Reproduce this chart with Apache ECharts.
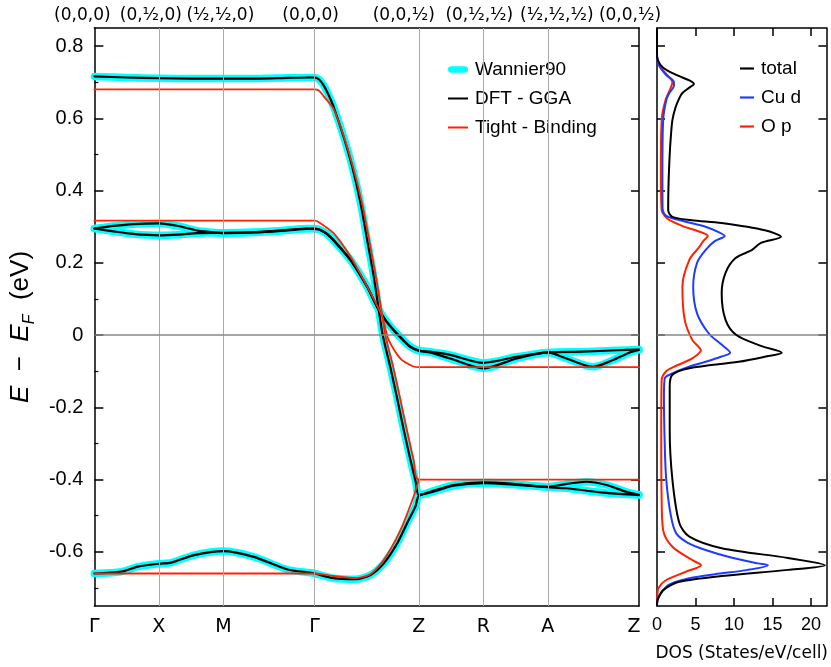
<!DOCTYPE html>
<html><head><meta charset="utf-8">
<script src="https://cdn.jsdelivr.net/npm/echarts@6/dist/echarts.min.js"></script>
<style>html,body{margin:0;padding:0;background:#fff}#c{width:831px;height:667px}</style>
</head><body><div id="c"></div>
<script>
// ---- high-symmetry path ----
const kTicks = [0, 1, 2, 3.414, 5.03, 6.03, 7.03, 8.444];
const kLabels = ['Γ', 'X', 'M', 'Γ', 'Z', 'R', 'A', 'Z'];
const kCoordLabels = ['(0,0,0)', '(0,½,0)', '(½,½,0)', '(0,0,0)', '(0,0,½)', '(0,½,½)', '(½,½,½)', '(0,0,½)'];
const kCoordShift = [-12, -8, -3, -4, -15, -4, 9, -9];
const kLabelShift = [0, 0, 0, 0, 0, 0, 0, -5];

// ---- energy ticks ----
const eMajorTicks = [-0.6, -0.4, -0.2, 0, 0.2, 0.4, 0.6, 0.8];
const eMinorTicks = [-0.7, -0.5, -0.3, -0.1, 0.1, 0.3, 0.5, 0.7];
const dosTicks = [0, 5, 10, 15, 20];

// ---- DFT-GGA bands [k, E] ----
const dftBand1 = [[0,0.716],[0.5,0.713],[1,0.711],[1.5,0.710],[2,0.710],[2.5,0.710],[3,0.712],[3.3,0.713],[3.414,0.713],[3.48,0.708],[3.56,0.69],[3.63,0.665],[3.709,0.632],[3.864,0.549],[3.998,0.466],[4.127,0.365],[4.230,0.263],[4.332,0.161],[4.410,0.069],[4.470,0.0],[4.590,-0.090],[4.694,-0.175],[4.796,-0.262],[4.900,-0.345],[4.980,-0.405],[5.030,-0.443],[5.209,-0.434],[5.569,-0.415],[6.03,-0.408],[6.496,-0.412],[7.03,-0.420],[7.321,-0.412],[7.631,-0.406],[7.94,-0.415],[8.249,-0.434],[8.444,-0.442]];
const dftBand2 = [[0,0.295],[0.3,0.302],[0.6,0.307],[1.0,0.309],[1.3,0.302],[1.6,0.289],[1.85,0.284],[2.0,0.283],[2.5,0.285],[3.0,0.291],[3.3,0.295],[3.414,0.295],[3.48,0.293],[3.56,0.286],[3.63,0.277],[3.709,0.263],[3.972,0.208],[4.230,0.134],[4.385,0.078],[4.52,0.040],[4.641,0.014],[4.78,-0.012],[4.9,-0.032],[5.03,-0.043],[5.2,-0.046],[5.518,-0.055],[6.03,-0.077],[6.549,-0.060],[7.03,-0.048],[7.573,-0.046],[8.094,-0.042],[8.444,-0.040]];
const dftBand3 = [[0,0.295],[0.3,0.287],[0.6,0.280],[1.0,0.276],[1.3,0.278],[1.6,0.282],[1.85,0.283],[2.0,0.282],[2.5,0.284],[3.0,0.290],[3.3,0.294],[3.414,0.294],[3.48,0.292],[3.56,0.285],[3.63,0.276],[3.709,0.262],[3.972,0.207],[4.230,0.133],[4.385,0.077],[4.52,0.039],[4.641,0.013],[4.78,-0.013],[4.9,-0.033],[5.03,-0.043],[5.2,-0.048],[5.518,-0.065],[6.03,-0.092],[6.549,-0.065],[7.03,-0.048],[7.321,-0.065],[7.733,-0.088],[8.042,-0.069],[8.3,-0.048],[8.444,-0.041]];
const dftBand4 = [[0,-0.660],[0.417,-0.655],[0.675,-0.641],[1.0,-0.633],[1.19,-0.630],[1.546,-0.609],[2.0,-0.598],[2.473,-0.614],[2.994,-0.649],[3.354,-0.658],[3.414,-0.660],[3.709,-0.673],[4.049,-0.676],[4.281,-0.664],[4.487,-0.632],[4.694,-0.577],[4.848,-0.521],[4.977,-0.475],[5.03,-0.445],[5.209,-0.436],[5.569,-0.417],[6.03,-0.410],[6.496,-0.414],[7.03,-0.421],[7.321,-0.424],[7.631,-0.431],[7.94,-0.437],[8.444,-0.443]];

// ---- Wannier90 bands (coincide with DFT) ----
const wannierBand1 = dftBand1;
const wannierBand2 = dftBand2;
const wannierBand3 = dftBand3;
const wannierBand4 = dftBand4;

// ---- Tight-binding bands [k, E] ----
const tbBand1 = [[0,0.680],[3.414,0.680],[3.48,0.677],[3.56,0.66],[3.709,0.626],[3.864,0.552],[4.01,0.466],[4.15,0.365],[4.26,0.263],[4.365,0.161],[4.45,0.069],[4.51,0.0],[4.635,-0.090],[4.74,-0.175],[4.845,-0.262],[4.95,-0.345],[5.03,-0.40],[8.444,-0.40]];
const tbBand2 = [[0,0.317],[3.414,0.317],[3.478,0.313],[3.709,0.282],[3.972,0.217],[4.230,0.134],[4.462,0.051],[4.564,-0.014],[4.745,-0.065],[4.946,-0.087],[5.03,-0.089],[8.444,-0.089]];
const tbBand3 = [[0,-0.660],[3.414,-0.660],[3.709,-0.667],[4.049,-0.673],[4.281,-0.662],[4.487,-0.623],[4.745,-0.540],[4.950,-0.447],[5.03,-0.40]];

// ---- DOS [E, DOS] ----
const dosTotal = [[0.85,0],[0.78,0],[0.761,0.1],[0.74,0.8],[0.72,2.5],[0.705,4.2],[0.695,4.8],[0.685,4.2],[0.67,3.3],[0.656,2.9],[0.63,2.4],[0.595,2.0],[0.55,1.8],[0.50,1.65],[0.42,1.5],[0.346,1.45],[0.327,2.0],[0.318,4.5],[0.31,8.4],[0.29,14],[0.272,16.1],[0.255,13.5],[0.235,12.3],[0.213,10.2],[0.172,8.9],[0.116,8.4],[0.042,8.9],[0.0,10.3],[-0.03,13.5],[-0.049,16.2],[-0.06,14],[-0.074,10.6],[-0.092,4.2],[-0.11,2.0],[-0.143,1.65],[-0.263,1.65],[-0.40,2.0],[-0.52,2.9],[-0.558,4.2],[-0.59,8.4],[-0.617,17],[-0.637,21.8],[-0.65,17],[-0.667,8.4],[-0.683,2.9],[-0.70,1.2],[-0.715,0.5],[-0.742,0],[-0.75,0]];
const dosCuD = [[0.85,0],[0.77,0],[0.745,0.3],[0.72,1.2],[0.70,2.2],[0.69,2.2],[0.67,1.6],[0.65,1.2],[0.595,0.8],[0.45,0.7],[0.35,0.72],[0.33,1.2],[0.315,3.5],[0.30,6.3],[0.285,8.0],[0.274,8.8],[0.26,7.5],[0.235,6.3],[0.20,5.2],[0.134,4.7],[0.06,5.2],[0.005,6.7],[-0.025,8.3],[-0.049,9.5],[-0.06,8.3],[-0.074,6.3],[-0.09,3.8],[-0.106,2.0],[-0.12,1.0],[-0.17,0.9],[-0.30,1.0],[-0.40,1.2],[-0.50,1.8],[-0.549,2.5],[-0.575,4.0],[-0.595,6.3],[-0.615,9.5],[-0.632,13.1],[-0.637,14.4],[-0.65,11.8],[-0.662,7.5],[-0.673,4.2],[-0.685,2.2],[-0.697,1.2],[-0.724,0.2],[-0.75,0]];
const dosOP = [[0.85,0],[0.77,0],[0.743,0.4],[0.72,1.3],[0.70,2.0],[0.685,1.8],[0.65,1.1],[0.595,0.6],[0.45,0.5],[0.346,0.6],[0.33,1.0],[0.318,1.65],[0.30,3.5],[0.29,5.0],[0.274,6.6],[0.26,6.0],[0.244,5.5],[0.208,4.2],[0.134,3.3],[0.042,3.6],[-0.014,4.6],[-0.043,5.7],[-0.055,5.2],[-0.069,4.2],[-0.085,2.5],[-0.10,1.2],[-0.125,0.6],[-0.263,0.55],[-0.45,0.6],[-0.54,0.8],[-0.586,2.0],[-0.623,4.6],[-0.637,5.7],[-0.655,3.8],[-0.678,1.2],[-0.70,0.2],[-0.72,0.05],[-0.75,0]];

const FONT = 'Liberation Sans';
const FONT2 = 'DejaVu Sans';
const E_MIN = -0.75, E_MAX = 0.85, K_MAX = kTicks[kTicks.length - 1], DOS_MAX = 22;

function idxOf(arr, v) { let b = 0, d = 1e9; arr.forEach((a, i) => { if (Math.abs(a - v) < d) { d = Math.abs(a - v); b = i; } }); return b; }
function shiftRich(shifts, size, family) {
  const r = {};
  shifts.forEach((s, i) => {
    r['t' + i] = { fontSize: size, fontFamily: family, color: '#000', padding: s < 0 ? [0, -2 * s, 0, 0] : [0, 0, 0, 2 * s] };
  });
  return r;
}
const eFmt = v => Math.abs(v) < 1e-9 ? '0' : v.toFixed(1);

const chart = echarts.init(document.getElementById('c'), null, { renderer: 'canvas' });

const bandSeries = [];
function addBands(list, name, color, width, z) {
  list.forEach(b => bandSeries.push({
    type: 'line', name, data: b, xAxisIndex: 0, yAxisIndex: 0, symbol: 'none', smooth: 0.25,
    lineStyle: { color, width, cap: 'round', join: 'round' }, itemStyle: { color }, z, silent: true, animation: false
  }));
}
addBands([wannierBand1, wannierBand2, wannierBand3, wannierBand4], 'Wannier90', '#00FFFF', 7.5, 2);
addBands([dftBand1, dftBand2, dftBand3, dftBand4], 'DFT - GGA', '#000000', 2.2, 3);
addBands([tbBand1, tbBand2, tbBand3], 'Tight - Binding', '#FF2200', 1.8, 4);

const dosSeries = [
  ['total', dosTotal, '#000000'], ['Cu d', dosCuD, '#1E3CFF'], ['O p', dosOP, '#FF2200']
].map(([name, d, color], i) => ({
  type: 'line', name, data: d.map(p => [p[1], p[0]]), xAxisIndex: 2, yAxisIndex: 3, symbol: 'none', smooth: 0.3,
  lineStyle: { color, width: 2 }, itemStyle: { color }, z: 5 - i, silent: true, animation: false
}));

const refSeries = [
  { type: 'line', name: '_grid0', data: [], xAxisIndex: 0, yAxisIndex: 0, symbol: 'none', silent: true, animation: false, z: 1,
    markLine: { silent: true, symbol: 'none', animation: false, label: { show: false },
      data: [
        ...kTicks.slice(1, -1).map(v => ({ xAxis: v, lineStyle: { color: '#aaaaaa', width: 1, type: 'solid' } })),
        { yAxis: 0, lineStyle: { color: '#888888', width: 1.5, type: 'solid' } }
      ] } },
  { type: 'line', name: '_grid1', data: [], xAxisIndex: 2, yAxisIndex: 3, symbol: 'none', silent: true, animation: false, z: 1,
    markLine: { silent: true, symbol: 'none', animation: false, label: { show: false },
      data: [{ yAxis: 0, lineStyle: { color: '#888888', width: 1.5, type: 'solid' } }] } }
];

const axLine = { show: true, onZero: false, lineStyle: { color: '#000', width: 1.5 } };
const ICON_THICK = 'path://M3.5,0 L18.5,0 A3.5,3.5 0 0 1 18.5,7 L3.5,7 A3.5,3.5 0 0 1 3.5,0 Z';
const ICON_THIN = 'path://M0,0 L20,0 L20,2 L0,2 Z';
const ICON_THIN_S = 'path://M0,0 L13,0 L13,2 L0,2 Z';

const option = {
  backgroundColor: '#fff',
  animation: false,
  textStyle: { fontFamily: FONT },
  grid: [
    { left: 93, top: 28, width: 546, height: 578, containLabel: false },
    { left: 657, top: 28, width: 172, height: 578, containLabel: false }
  ],
  legend: [
    { data: [
        { name: 'Wannier90', icon: ICON_THICK, itemStyle: { color: '#00FFFF' } },
        { name: 'DFT - GGA', icon: ICON_THIN, itemStyle: { color: '#000000' } },
        { name: 'Tight - Binding', icon: ICON_THIN, itemStyle: { color: '#FF2200' } }],
      orient: 'vertical', left: 443, top: 55, itemWidth: 20, itemHeight: 14, itemGap: 10, symbolKeepAspect: true,
      textStyle: { fontSize: 19, fontFamily: FONT, color: '#000', padding: [0, 0, 0, 2] }, selectedMode: false },
    { data: [
        { name: 'total', icon: ICON_THIN_S, itemStyle: { color: '#000000' } },
        { name: 'Cu d', icon: ICON_THIN_S, itemStyle: { color: '#1E3CFF' } },
        { name: 'O p', icon: ICON_THIN_S, itemStyle: { color: '#FF2200' } }],
      orient: 'vertical', left: 735, top: 54, itemWidth: 14, itemHeight: 14, itemGap: 10, symbolKeepAspect: true,
      textStyle: { fontSize: 19, fontFamily: FONT, color: '#000', padding: [0, 0, 0, 2] }, selectedMode: false }
  ],
  xAxis: [
    { gridIndex: 0, type: 'value', position: 'bottom', min: 0, max: K_MAX,
      axisLine: axLine, axisTick: { show: false }, splitLine: { show: false },
      axisLabel: { customValues: kTicks, margin: 12, formatter: v => { const i = idxOf(kTicks, v); return '{t' + i + '|' + kLabels[i] + '}'; },
        rich: shiftRich(kLabelShift, 19, FONT2) } },
    { gridIndex: 0, type: 'value', position: 'top', min: 0, max: K_MAX,
      axisLine: axLine, axisTick: { show: false }, splitLine: { show: false },
      axisLabel: { customValues: kTicks, margin: 4, formatter: v => { const i = idxOf(kTicks, v); return '{t' + i + '|' + kCoordLabels[i] + '}'; },
        rich: shiftRich(kCoordShift, 17, FONT2) } },
    { gridIndex: 1, type: 'value', position: 'bottom', min: 0, max: DOS_MAX,
      axisLine: axLine, splitLine: { show: false },
      axisTick: { inside: true, length: 8, customValues: dosTicks, lineStyle: { color: '#000', width: 1.5 } },
      axisLabel: { customValues: dosTicks, fontSize: 18, color: '#000', margin: 10, fontFamily: FONT },
      name: 'DOS (States/eV/cell)', nameLocation: 'middle', nameGap: 39,
      nameTextStyle: { fontSize: 17, color: '#000', fontFamily: FONT2 } },
    { gridIndex: 1, type: 'value', position: 'top', min: 0, max: DOS_MAX,
      axisLine: axLine, splitLine: { show: false },
      axisTick: { inside: true, length: 8, customValues: dosTicks, lineStyle: { color: '#000', width: 1.5 } },
      axisLabel: { show: false } }
  ],
  yAxis: [
    { gridIndex: 0, type: 'value', position: 'left', min: E_MIN, max: E_MAX,
      axisLine: axLine, splitLine: { show: false },
      axisTick: { inside: true, length: 9, customValues: eMajorTicks, lineStyle: { color: '#000', width: 1.5 } },
      axisLabel: { customValues: eMajorTicks, formatter: eFmt, fontSize: 20, color: '#000', margin: 11, fontFamily: FONT },
      name: '{it|E}{n|  −  }{it|E}{sub|F}{n|  (eV)}', nameLocation: 'middle', nameRotate: 90, nameGap: 48,
      nameTextStyle: { fontSize: 26, color: '#000', fontFamily: FONT, padding: [0, 20, 0, 0],
        rich: {
          it: { fontSize: 26, lineHeight: 26, fontStyle: 'italic', fontFamily: FONT, color: '#000', verticalAlign: 'top' },
          n: { fontSize: 26, lineHeight: 26, fontFamily: FONT, color: '#000', verticalAlign: 'top' },
          sub: { fontSize: 16, lineHeight: 16, fontStyle: 'italic', fontFamily: FONT, color: '#000', verticalAlign: 'top', padding: [14, 0, 0, 0] }
        } } },
    { gridIndex: 0, type: 'value', position: 'left', min: E_MIN, max: E_MAX,
      axisLine: { show: false, onZero: false }, splitLine: { show: false },
      axisTick: { inside: true, length: 4, customValues: eMinorTicks, lineStyle: { color: '#000', width: 1.2 } },
      axisLabel: { show: false } },
    { gridIndex: 0, type: 'value', position: 'right', min: E_MIN, max: E_MAX,
      axisLine: axLine, splitLine: { show: false },
      axisTick: { inside: true, length: 8, customValues: eMajorTicks, lineStyle: { color: '#000', width: 1.5 } },
      axisLabel: { show: false } },
    { gridIndex: 1, type: 'value', position: 'left', min: E_MIN, max: E_MAX,
      axisLine: axLine, splitLine: { show: false },
      axisTick: { inside: true, length: 8, customValues: eMajorTicks, lineStyle: { color: '#000', width: 1.5 } },
      axisLabel: { show: false } },
    { gridIndex: 1, type: 'value', position: 'right', min: E_MIN, max: E_MAX,
      axisLine: axLine, splitLine: { show: false },
      axisTick: { inside: true, length: 8, customValues: eMajorTicks, lineStyle: { color: '#000', width: 1.5 } },
      axisLabel: { show: false } }
  ],
  series: [...refSeries, ...bandSeries, ...dosSeries]
};
chart.setOption(option);
</script></body></html>
